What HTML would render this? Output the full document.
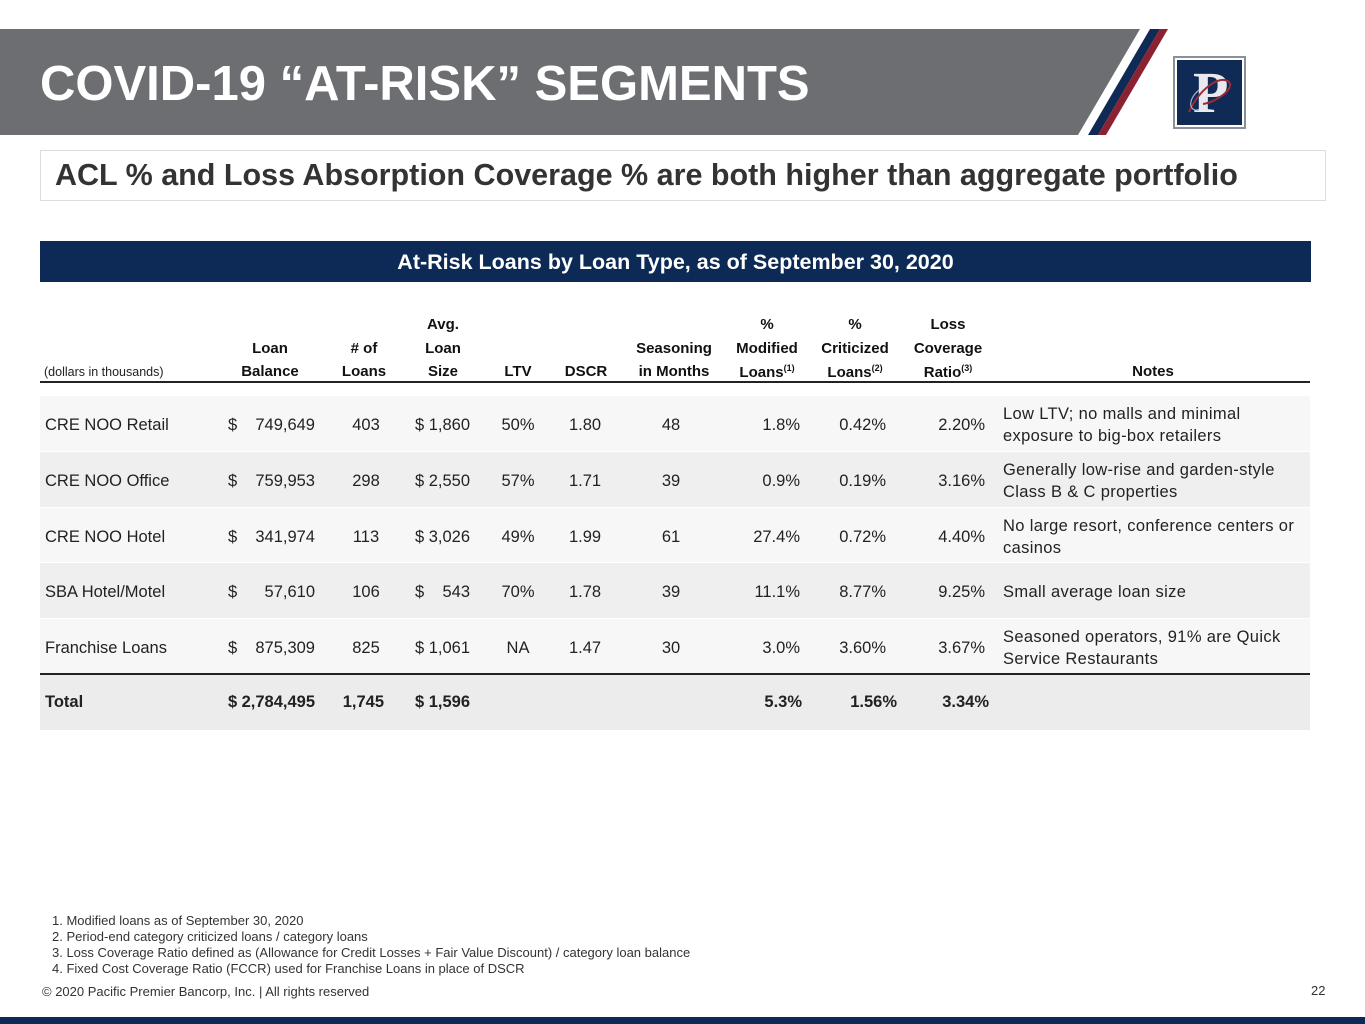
<!DOCTYPE html>
<html><head><meta charset="utf-8">
<style>
*{margin:0;padding:0;box-sizing:border-box}
body{width:1365px;height:1024px;position:relative;background:#fff;font-family:"Liberation Sans",Arial,sans-serif;color:#1a1a1a;overflow:hidden}
.a{position:absolute;white-space:nowrap}
.h{font-weight:bold;font-size:15px;color:#111}
.c{font-size:16.5px;color:#222}
.n{font-size:16.5px;color:#222;letter-spacing:0.35px}
sup{font-size:9px;vertical-align:6px}
.fn{font-size:13px;color:#333}
</style></head><body>
<div class="a" style="left:0;top:29px;width:1200px;height:106px">
<svg width="1200" height="106">
<polygon points="0,0 1140,0 1078,106 0,106" fill="#6d6e72"/>
<polygon points="1150,0 1160,0 1098,106 1088,106" fill="#102a56"/>
<polygon points="1160,0 1168,0 1106,106 1098,106" fill="#8c2231"/>
</svg></div>
<div class="a" style="left:40px;top:56px;font-size:49px;font-weight:bold;color:#fff">COVID-19 “AT-RISK” SEGMENTS</div>
<div class="a" style="left:1173px;top:56px;width:73px;height:73px;border:2px solid #8a9099;background:#fff;padding:2px">
<div style="width:100%;height:100%;background:#102a56;position:relative;overflow:hidden">
<div style="position:absolute;left:16px;top:0px;font-family:'Liberation Serif',serif;font-size:58px;font-weight:bold;color:#e8e8ee;line-height:66px">P</div>
<svg width="65" height="65" style="position:absolute;left:0;top:0"><path d="M12,52 C22,30 42,14 52,22 C58,28 40,42 26,44" stroke="#9c2b38" stroke-width="2" fill="none"/><path d="M22,30 C10,40 12,52 22,50" stroke="#9fb3d1" stroke-width="1.2" fill="none"/></svg>
</div></div>
<div class="a" style="left:40px;top:150px;width:1286px;height:51px;border:1px solid #ddd"></div>
<div class="a" style="left:55px;top:158px;font-size:30.5px;font-weight:bold;color:#333">ACL % and Loss Absorption Coverage % are both higher than aggregate portfolio</div>
<div class="a" style="left:40px;top:241px;width:1271px;height:41px;background:#0c2a55;color:#fff;font-weight:bold;font-size:21.5px;text-align:center;line-height:43px">At-Risk Loans by Loan Type, as of September 30, 2020</div>

<div class="a" style="left:44px;top:365px;font-size:12.5px;color:#222">(dollars in thousands)</div>
<div id="hdr"></div>
<div class="a" style="left:40px;top:381px;width:1270px;height:2px;background:#222"></div>
<div id="tbl"></div>

<div class="a fn" style="left:52px;top:913px">1. Modified loans as of September 30, 2020</div>
<div class="a fn" style="left:52px;top:929px">2. Period-end category criticized loans / category loans</div>
<div class="a fn" style="left:52px;top:945px">3. Loss Coverage Ratio defined as (Allowance for Credit Losses + Fair Value Discount) / category loan balance</div>
<div class="a fn" style="left:52px;top:961px">4. Fixed Cost Coverage Ratio (FCCR) used for Franchise Loans in place of DSCR</div>
<div class="a fn" style="left:42px;top:984px;font-size:13px">© 2020 Pacific Premier Bancorp, Inc. | All rights reserved</div>
<div class="a" style="left:1311px;top:983px;font-size:13px;color:#333">22</div>
<div class="a" style="left:0;top:1017px;width:1365px;height:7px;background:#0c2a55"></div>

<script>
const rowNames=["CRE NOO Retail","CRE NOO Office","CRE NOO Hotel","SBA Hotel/Motel","Franchise Loans"];
const loanBalance=["749,649","759,953","341,974","57,610","875,309"];
const loanCount=["403","298","113","106","825"];
const avgSize=["1,860","2,550","3,026","543","1,061"];
const ltv=["50%","57%","49%","70%","NA"];
const dscr=["1.80","1.71","1.99","1.78","1.47"];
const seasoning=["48","39","61","39","30"];
const pctModified=["1.8%","0.9%","27.4%","11.1%","3.0%"];
const pctCriticized=["0.42%","0.19%","0.72%","8.77%","3.60%"];
const lossCoverage=["2.20%","3.16%","4.40%","9.25%","3.67%"];
const notes=[["Low LTV; no malls and minimal","exposure to big-box retailers"],["Generally low-rise and garden-style","Class B & C properties"],["No large resort, conference centers or","casinos"],["Small average loan size"],["Seasoned operators, 91% are Quick","Service Restaurants"]];
const totals=["Total","2,784,495","1,745","1,596","5.3%","1.56%","3.34%"];

function put(parent,cls,html,x,y,align){
  const d=document.createElement('div');
  d.className='a '+cls;
  d.innerHTML=html;
  d.style.top=y+'px';
  if(align==='r'){d.style.right=(1365-x)+'px';}
  else if(align==='c'){d.style.left=(x-100)+'px';d.style.width='200px';d.style.textAlign='center';}
  else d.style.left=x+'px';
  parent.appendChild(d);return d;
}
const hdr=document.getElementById('hdr');
const H=[[270,["Loan","Balance"]],[364,["# of","Loans"]],[443,["Avg.","Loan","Size"]],[518,["LTV"]],[586,["DSCR"]],[674,["Seasoning","in Months"]],[767,["%","Modified","Loans<sup>(1)</sup>"]],[855,["%","Criticized","Loans<sup>(2)</sup>"]],[948,["Loss","Coverage","Ratio<sup>(3)</sup>"]],[1153,["Notes"]]];
H.forEach(function(h){
  const lines=h[1];
  lines.forEach(function(t,i){
    const y=363-(lines.length-1-i)*23.5;
    const e=put(hdr,'h',t,h[0],y,'c');
    
    
  });
});
const tbl=document.getElementById('tbl');
const top0=396,rh=55.8;
rowNames.forEach(function(n,i){
  const y=top0+i*rh;
  const bg=document.createElement('div');
  bg.className='a';
  bg.style.cssText='left:40px;top:'+y+'px;width:1270px;height:'+(rh-1)+'px;background:'+(i%2?'#efefef':'#f7f7f7');
  
  
  tbl.appendChild(bg);
  const ty=y+20;
  const cells=[[n,45,'l'],['$',228,'l'],[loanBalance[i],315,'r'],[loanCount[i],366,'c'],['$',415,'l'],[avgSize[i],470,'r'],[ltv[i],518,'c'],[dscr[i],585,'c'],[seasoning[i],671,'c'],[pctModified[i],800,'r'],[pctCriticized[i],886,'r'],[lossCoverage[i],985,'r']];
  cells.forEach(function(c){
    const e=put(tbl,'c',c[0],c[1],ty,c[2]);
    
    
  });
  const nl=notes[i];
  nl.forEach(function(t,k){
    const e=put(tbl,'n',t,1003,nl.length===2?ty-11+k*22:ty,'l');
    
    
  });
});
const tr=document.createElement('div');
tr.className='a';
tr.style.cssText='left:40px;top:673px;width:1270px;height:2px;background:#222';


tbl.appendChild(tr);
const tb=document.createElement('div');
tb.className='a';
tb.style.cssText='left:40px;top:675px;width:1270px;height:55px;background:#ececec';


tbl.appendChild(tb);
const tcells=[[totals[0],45,'l'],['$',228,'l'],[totals[1],315,'r'],[totals[2],384,'r'],['$',415,'l'],[totals[3],470,'r'],[totals[4],802,'r'],[totals[5],897,'r'],[totals[6],989,'r']];
tcells.forEach(function(c){
  const e=put(tbl,'c',c[0],c[1],693,c[2]);
  e.style.fontWeight='bold';
  
  
});
</script>
</body></html>
